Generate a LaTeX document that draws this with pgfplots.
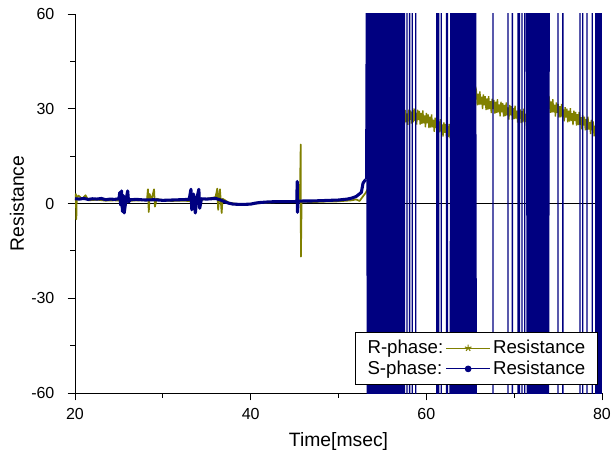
\documentclass[border=0pt]{standalone}
\usepackage{fontspec}
\setmainfont{Liberation Sans}
\usepackage{pgfplots}
\pgfplotsset{compat=1.18}
\definecolor{olivec}{RGB}{128,128,0}
\definecolor{navyc}{RGB}{0,0,128}
\begin{document}
\begin{tikzpicture}
\begin{axis}[
  scale only axis, width=395.25pt, height=284.25pt,
  at={(0,0)}, anchor=south west,
  xmin=20, xmax=80, ymin=-60, ymax=60,
  axis x line*=bottom, axis y line*=left,
  axis line style={line width=0.6pt},
  xtick={20,40,60,80}, ytick={-60,-30,0,30,60},
  minor x tick num=1, minor y tick num=1,
  tick align=outside, major tick length=5.5pt, minor tick length=3.5pt,
  tick style={black, line width=0.6pt},
  /pgf/number format/assume math mode=true,
  tick label style={font=\fontsize{12}{14}\selectfont},
  xticklabel style={anchor=north, inner sep=0pt, yshift=-6pt},
  yticklabel style={anchor=east, inner sep=0pt, xshift=-9.75pt},
  xlabel={Time[msec]}, ylabel={Resistance},
  label style={font=\fontsize{14.5}{17}\selectfont},
  xlabel style={at={(axis description cs:0.5,-0.127)}, anchor=center},
  ylabel style={at={(axis description cs:-0.110,0.5)}, anchor=center},
  legend columns=2,
  legend cell align=left,
  legend image code/.code={\draw[#1] (0cm,0cm) -- (1.15cm,0cm); \draw[#1] plot coordinates {(0.575cm,0cm)};},
  legend style={at={(axis description cs:0.992,0.021)}, anchor=south east,
    draw=black, line width=0.6pt, fill=white,
    font=\fontsize{14}{16}\selectfont, inner xsep=7pt, inner ysep=4pt,
    row sep=0pt,
    /tikz/every even column/.append style={column sep=0pt}},
]
% zero line
\addplot[black, line width=0.6pt, forget plot] coordinates {(20,0) (80,0)};

% R-phase baseline
\addplot[olivec, line width=1.3pt, line join=round, forget plot] coordinates {
(20.0,1.0) (20.1,3.0) (20.15,-5.0) (20.2,2.0) (20.4,2.5) (20.8,1.5) (21.2,2.6) (21.5,1.0)
(22.5,1.2) (23.5,0.9) (24.5,1.0) (25.5,0.8) (26.5,0.9) (27.5,1.0)
(28.2,1.2) (28.3,4.5) (28.4,-2.7) (28.5,3.0) (28.7,1.0) (29.0,4.5) (29.1,-1.0) (29.3,1.5)
(30,1.0) (31,0.8) (32,0.9) (33,0.8) (34,0.9) (35,1.5)
(36.0,2.0) (36.2,4.7) (36.3,-2.0) (36.5,4.5) (36.7,-3.0) (36.8,1.5)
(37.5,0.3) (38.5,-0.2) (39.5,-0.2) (40.5,0.0) (41.5,0.2) (42.5,0.4) (43.5,0.5) (44.5,0.5)
(45.6,0.6) (45.7,18.7) (45.72,-16.8) (45.8,0.6)
(46.5,0.5) (47.5,0.5) (48.5,0.6) (49.5,0.6) (50.5,0.8) (51.5,1.0) (52.0,1.3)
(52.4,0.8) (52.8,2.3) (53.1,3.4) (53.3,4.4)
};
% R-phase upper region
\addplot[olivec, line width=1pt, forget plot] coordinates {
(53.3,4.4) (53.6,8) (54.5,20) (55.5,26) (56.5,27)
(57.2,28.5) (57.3,24.4) (57.4,28.4) (57.5,25.1) (57.6,29.6) (57.7,25.7) (57.8,28.5) (57.9,24.9)
(58.0,29.7) (58.1,26.5) (58.2,29.5) (58.3,25.3) (58.4,29.1) (58.5,25.7) (58.6,30.1) (58.7,26.1)
(58.8,28.7) (58.9,25.0) (59.0,29.7) (59.1,26.4) (59.2,29.3) (59.3,25.0) (59.4,28.7) (59.5,25.2)
(59.6,29.5) (59.7,25.4) (59.8,27.9) (59.9,24.1) (60.0,28.7) (60.1,25.4) (60.2,28.2) (60.3,23.9)
(60.4,27.5) (60.5,24.0) (60.6,28.2) (60.7,24.1) (60.8,26.5) (60.9,22.7) (61.0,27.2) (61.1,23.9)
(61.2,26.7) (61.3,22.4) (61.4,26.0) (61.5,22.5) (61.6,26.7) (61.7,22.6) (61.8,25.0) (61.9,21.2)
(62.0,25.7) (62.1,22.4) (62.2,25.2) (62.3,20.9) (62.4,24.5) (62.5,21.0) (62.6,25.2) (62.7,21.1)
(63.0,22) (63.5,22) (63.8,80) (63.85,-80) (63.9,22) (64.5,25) (65.2,30) (65.5,33)
(65.7,35.5) (65.8,31.1) (65.9,34.8) (66.0,31.2) (66.1,35.5) (66.2,31.3) (66.3,33.8) (66.4,29.9)
(66.5,34.5) (66.6,31.1) (66.7,34.0) (66.8,29.6) (66.9,33.3) (67.0,29.7) (67.1,34.0) (67.2,29.9)
(67.3,32.4) (67.4,28.6) (67.5,33.2) (67.6,29.9) (67.7,32.8) (67.8,28.5) (67.9,32.2) (68.0,28.7)
(68.1,33.0) (68.2,28.9) (68.3,31.4) (68.4,27.6) (68.5,32.2) (68.6,28.9) (68.7,31.8) (68.8,27.5)
(68.9,31.2) (69.0,27.7) (69.1,32.0) (69.2,27.9) (69.3,30.4) (69.4,26.6) (69.5,31.2) (69.6,27.9)
(69.7,30.8) (69.8,26.5) (69.9,30.2) (70.0,26.7) (70.1,31.0) (70.2,26.9) (70.3,29.4) (70.4,25.6)
(70.5,30.2) (70.6,26.9) (70.7,29.8) (70.8,25.5) (70.9,29.2) (71.0,25.7) (71.1,30.0) (71.2,25.9)
(71.3,28.4) (71.4,24.5)
(71.8,27) (72.1,80) (72.15,-80) (72.2,28) (73,30) (73.8,31)
(74.0,33.0) (74.1,28.7) (74.2,32.3) (74.3,28.8) (74.4,33.0) (74.5,28.9) (74.6,31.3) (74.7,27.5)
(74.8,32.0) (74.9,28.7) (75.0,31.5) (75.1,27.2) (75.2,30.8) (75.3,27.3) (75.4,31.5) (75.5,27.4)
(75.6,29.8) (75.7,26.0) (75.8,30.5) (75.9,27.2) (76.0,30.0) (76.1,25.7) (76.2,29.4) (76.3,25.9)
(76.4,30.2) (76.5,26.1) (76.6,28.6) (76.7,24.8) (76.8,29.4) (76.9,26.1) (77.0,29.0) (77.1,24.7)
(77.2,28.3) (77.3,24.8) (77.4,29.0) (77.5,24.9) (77.6,27.3) (77.7,23.5) (77.8,28.0) (77.9,24.7)
(78.0,27.5) (78.1,23.2) (78.2,26.8) (78.3,23.3) (78.4,27.5) (78.5,23.4) (78.6,25.8) (78.7,22.0)
(78.8,26.5) (78.9,23.2) (79.0,26.0) (79.1,21.3) (79.2,24.6) (79.3,20.7) (79.4,24.6) (79.5,20.1)
(79.6,21.7) (79.7,17.0)
};

% S-phase baseline
\addplot[navyc, line width=2.3pt, line join=round, forget plot] coordinates {
(20.0,1.5) (20.5,1.4) (21,1.6) (21.5,1.3) (22,1.5) (22.5,1.4) (23,1.6) (23.5,1.2) (24,1.4) (24.5,1.3)
(25.0,1.5) (25.1,3.5) (25.2,-0.5) (25.3,4.0) (25.4,-2.5) (25.5,2.5) (25.6,-3.0) (25.8,1.0) (26.0,4.0) (26.1,0.5) (26.3,1.2)
(27,1.3) (28,1.1) (29,1.2) (30,1.0) (31,1.1) (32,1.2) (33,1.3)
(33.2,4.5) (33.3,-2.0) (33.5,3.0) (33.7,-3.0) (33.9,2.0) (34.1,4.5) (34.2,-1.5) (34.4,1.5)
(35,1.4) (36,1.6) (36.5,1.2) (37,0.6) (37.5,0.1) (38,-0.2) (39,-0.3) (40,-0.2) (40.5,0.1)
(41,0.3) (42,0.5) (43,0.6) (44,0.6) (45,0.6)
(45.25,0.7) (45.3,7.0) (45.33,-2.8) (45.4,0.7)
(46,0.8) (47,0.8) (48,0.9) (49,1.0) (50,1.1) (51,1.4) (51.5,1.7) (52,2.2) (52.6,3.5) (52.8,6.5) (53.1,7.6)
};
% S-phase oscillation
\addplot[navyc, line width=1pt, forget plot] coordinates {
(53.1,7.6) (53.2,80) (53.3,-80) (53.4,80) (53.5,-80) (53.6,80) (53.7,-80) (53.8,80) (53.9,-80)
(54.0,80) (54.1,-80) (54.2,80) (54.25,-30) (54.3,-80)
(54.4,80) (54.5,-80) (54.6,80)
(54.7,-80) (54.8,80) (54.9,-80) (55.0,80) (55.1,-80) (55.2,80) (55.3,-80) (55.4,80) (55.5,-80) (55.6,80)
(55.7,-80) (55.8,80) (55.9,-80) (56.0,80) (56.1,-80) (56.2,80) (56.3,-80) (56.4,80) (56.5,-80) (56.6,80)
(56.7,-80) (56.8,80) (56.9,-80) (57.0,80) (57.1,-80) (57.2,80)
(57.3,80) (57.3,-80) (57.5,-80) (57.5,80) (57.8,80) (57.8,-80) (58.1,-80) (58.1,80)
(58.4,80) (58.4,-80) (58.8,-80) (58.8,80)
(61.2,80) (61.2,-80) (61.4,-80) (61.4,80) (61.7,80) (61.7,-80) (62.3,-80) (62.3,80) (62.4,80) (62.4,-80)
(62.7,-80) (62.8,80) (62.9,-80) (63.0,80) (63.1,-80) (63.2,80) (63.3,-80) (63.4,80) (63.5,-80) (63.6,80)
(63.7,-80) (63.8,80) (63.9,-80) (64.0,80) (64.1,-80) (64.2,80) (64.3,-80) (64.4,80) (64.5,-80) (64.6,80)
(64.7,-80) (64.8,80) (64.9,-80) (65.0,80) (65.1,-80) (65.2,80) (65.3,-80) (65.4,80) (65.5,-80) (65.6,80)
(65.7,-80)
(67.6,-80) (67.6,80) (69.3,80) (69.3,-80) (69.8,-80) (69.8,80) (70.45,80) (70.45,-80)
(70.6,-80) (70.6,80) (70.9,80) (70.9,-80) (71.2,-80) (71.2,80)
(71.4,80) (71.5,-80) (71.6,80) (71.7,-80) (71.8,80) (71.9,-80) (72.0,80) (72.1,-80) (72.2,80) (72.3,-80)
(72.4,80) (72.5,-80) (72.6,80) (72.7,-80) (72.8,80) (72.9,-80) (73.0,80) (73.1,-80) (73.2,80) (73.3,-80)
(73.4,80) (73.5,-80) (73.6,80) (73.7,-80) (73.8,80) (73.9,-80) (74.0,80)
(75.0,80) (75.0,-80) (75.55,-80) (75.55,80) (77.5,80) (77.5,-80) (77.8,-80) (77.8,80)
(78.3,80) (78.3,-80) (78.9,-80) (78.9,80) (79.3,80) (79.3,-80)
(79.4,-80) (79.5,80) (79.6,-80) (79.7,80) (79.8,-80) (79.9,80) (80.0,-80)
};

% legend
\addlegendimage{empty legend}
\addlegendentry{R-phase:}
\addlegendimage{olivec, line width=0.6pt, mark=star, mark size=2.6pt, mark options={line width=0.8pt}}
\addlegendentry{Resistance}
\addlegendimage{empty legend}
\addlegendentry{S-phase:}
\addlegendimage{navyc, line width=0.6pt, mark=*, mark size=2.2pt}
\addlegendentry{Resistance}
\end{axis}
\pgfresetboundingbox
\path[use as bounding box] (-56.25pt,-51pt) rectangle (402pt,294.75pt);
\end{tikzpicture}
\end{document}
